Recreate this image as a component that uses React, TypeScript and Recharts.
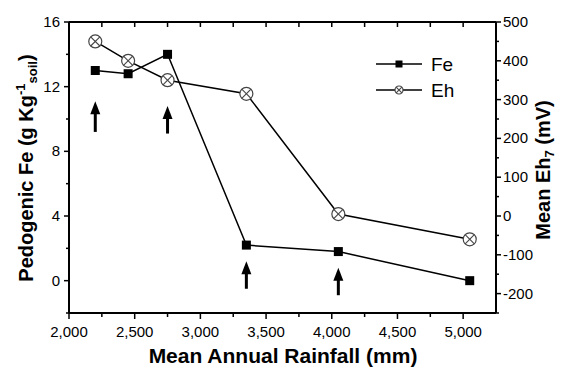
import { ComposedChart, Line, XAxis, YAxis, ReferenceLine, Legend } from "recharts"

const FONT = "'Liberation Sans', Arial, Helvetica, sans-serif"

// rainfall (mm) at each site
const rainfall = [2200, 2450, 2750, 3350, 4050, 5050]
// pedogenic Fe (g/kg soil)
const feValues = [13.0, 12.8, 14.0, 2.2, 1.8, 0.0]
// mean Eh7 (mV)
const ehValues = [450, 400, 350, 315, 5, -60]

// upward arrows (in Fe units)
const arrowRainfall = [2200, 2750, 3350, 4050]
const arrowFrom = [9.2, 9.1, -0.5, -0.9]
const arrowTo = [11.1, 10.8, 1.2, 0.8]

const xTicks = [2000, 2250, 2500, 2750, 3000, 3250, 3500, 3750, 4000, 4250, 4500, 4750, 5000]
const topTicks = [2250, 2500, 2750, 3000, 3250, 3500, 3750, 4000, 4250, 4500, 4750, 5000]
const feTicks = [-2, 0, 2, 4, 6, 8, 10, 12, 14, 16]
const ehTicks = [-250, -200, -150, -100, -50, 0, 50, 100, 150, 200, 250, 300, 350, 400, 450, 500]

const data = rainfall.map((r, i) => ({ rainfall: r, fe: feValues[i], eh: ehValues[i] }))

function BottomTick({ x, y, payload }: any) {
  const v = payload.value
  const major = v % 500 === 0
  return (
    <g>
      <line x1={x} y1={y} x2={x} y2={y + (major ? 6 : 4)} stroke="#000" strokeWidth={1.5} />
      {major && (
        <text x={x} y={y + 24} textAnchor="middle" fontSize={15} fontFamily={FONT} fill="#000">
          {v.toLocaleString("en-US")}
        </text>
      )}
    </g>
  )
}

function TopTick({ x, y }: any) {
  return <line x1={x} y1={y} x2={x} y2={y + 5} stroke="#000" strokeWidth={1.5} />
}

function LeftTick({ x, y, payload }: any) {
  const v = payload.value
  const major = v % 4 === 0
  return (
    <g>
      <line x1={x} y1={y} x2={x - (major ? 5 : 3)} y2={y} stroke="#000" strokeWidth={1.5} />
      {major && (
        <text x={x - 9} y={y + 5} textAnchor="end" fontSize={15} fontFamily={FONT} fill="#000">
          {v}
        </text>
      )}
    </g>
  )
}

function RightTick({ x, y, payload }: any) {
  const v = payload.value
  const major = v % 100 === 0
  return (
    <g>
      <line x1={x} y1={y} x2={x + (major ? 5 : 3)} y2={y} stroke="#000" strokeWidth={1.5} />
      {major && (
        <text x={x + 7} y={y + 5} textAnchor="start" fontSize={15} fontFamily={FONT} fill="#000">
          {v}
        </text>
      )}
    </g>
  )
}

function FeSquare({ cx, cy, size = 9 }: any) {
  return <rect x={cx - size / 2} y={cy - size / 2} width={size} height={size} fill="#000" />
}

function EhCircle({ cx, cy, r = 6.5 }: any) {
  const d = r * 0.707
  return (
    <g>
      <circle cx={cx} cy={cy} r={r} fill="#fff" stroke="#444" strokeWidth={1.2} />
      <line x1={cx - d} y1={cy - d} x2={cx + d} y2={cy + d} stroke="#444" strokeWidth={1.1} />
      <line x1={cx - d} y1={cy + d} x2={cx + d} y2={cy - d} stroke="#444" strokeWidth={1.1} />
    </g>
  )
}

function ArrowShape(props: any) {
  const { x1, y1, y2 } = props
  const bottom = Math.max(y1, y2)
  const top = Math.min(y1, y2)
  const headH = 13
  const headW = 10
  return (
    <g>
      <line x1={x1} y1={bottom} x2={x1} y2={top + headH - 1} stroke="#000" strokeWidth={3} />
      <polygon points={`${x1},${top} ${x1 - headW / 2},${top + headH} ${x1 + headW / 2},${top + headH}`} fill="#000" />
    </g>
  )
}

function LegendBox() {
  return (
    <svg width={100} height={54} style={{ display: "block" }}>
      <line x1={6} y1={14} x2={52} y2={14} stroke="#000" strokeWidth={1.5} />
      <FeSquare cx={29} cy={14} size={7} />
      <text x={61} y={21} fontSize={19} fontFamily={FONT} fill="#000">Fe</text>
      <line x1={6} y1={40} x2={52} y2={40} stroke="#000" strokeWidth={1.5} />
      <EhCircle cx={29} cy={40} r={4} />
      <text x={61} y={47} fontSize={19} fontFamily={FONT} fill="#000">Eh</text>
    </svg>
  )
}

const axisLine = { stroke: "#000", strokeWidth: 2 }

export default function App() {
  return (
    <div style={{ position: "absolute", left: 0, top: 0, width: 561, height: 368, background: "#fff" }}>
      <ComposedChart width={561} height={368} data={data} margin={{ top: 0, right: 0, bottom: 0, left: 0 }}>
        <XAxis
          dataKey="rainfall"
          type="number"
          domain={[2000, 5250]}
          ticks={xTicks}
          interval={0}
          allowDataOverflow
          height={55}
          tickSize={0}
          tickMargin={0}
          tickLine={false}
          axisLine={axisLine}
          tick={<BottomTick />}
          label={{
            content: () => (
              <text x={283} y={363} textAnchor="middle" fontSize={21} fontWeight="bold" fontFamily={FONT} fill="#000">
                Mean Annual Rainfall (mm)
              </text>
            ),
          }}
        />
        <XAxis
          xAxisId="top"
          dataKey="rainfall"
          orientation="top"
          type="number"
          domain={[2000, 5250]}
          ticks={topTicks}
          interval={0}
          allowDataOverflow
          height={22}
          tickSize={0}
          tickMargin={0}
          tickLine={false}
          axisLine={axisLine}
          tick={<TopTick />}
        />
        <YAxis
          yAxisId="fe"
          type="number"
          domain={[-2, 16]}
          ticks={feTicks}
          interval={0}
          allowDataOverflow
          width={69}
          tickSize={0}
          tickMargin={0}
          tickLine={false}
          axisLine={axisLine}
          tick={<LeftTick />}
          label={{
            content: () => (
              <text
                x={33}
                y={168}
                transform="rotate(-90 33 168)"
                textAnchor="middle"
                fontSize={20}
                fontWeight="bold"
                fontFamily={FONT}
                fill="#000"
              >
                <tspan>Pedogenic Fe (g Kg</tspan>
                <tspan fontSize={13} dy={-8}>-1</tspan>
                <tspan fontSize={13} dy={12}>soil</tspan>
                <tspan dy={-4}>)</tspan>
              </text>
            ),
          }}
        />
        <YAxis
          yAxisId="eh"
          orientation="right"
          type="number"
          domain={[-250, 500]}
          ticks={ehTicks}
          interval={0}
          allowDataOverflow
          width={65}
          tickSize={0}
          tickMargin={0}
          tickLine={false}
          axisLine={axisLine}
          tick={<RightTick />}
          label={{
            content: () => (
              <text
                x={550}
                y={170}
                transform="rotate(-90 550 170)"
                textAnchor="middle"
                fontSize={20}
                fontWeight="bold"
                fontFamily={FONT}
                fill="#000"
              >
                <tspan>Mean Eh</tspan>
                <tspan fontSize={13} dy={4}>7</tspan>
                <tspan dy={-4}> (mV)</tspan>
              </text>
            ),
          }}
        />
        <Legend
          layout="vertical"
          align="center"
          verticalAlign="middle"
          content={() => <LegendBox />}
          wrapperStyle={{ left: 370, top: 50, width: 100, height: 54 }}
        />
        {arrowRainfall.map((r, i) => (
          <ReferenceLine
            key={`arrow-${i}`}
            yAxisId="fe"
            ifOverflow="visible"
            segment={[
              { x: r, y: arrowFrom[i] },
              { x: r, y: arrowTo[i] },
            ]}
            shape={ArrowShape}
          />
        ))}
        <Line
          yAxisId="eh"
          dataKey="eh"
          stroke="#000"
          strokeWidth={1.5}
          isAnimationActive={false}
          activeDot={false}
          dot={(p: any) => <EhCircle key={`eh-${p.index}`} cx={p.cx} cy={p.cy} />}
        />
        <Line
          yAxisId="fe"
          dataKey="fe"
          stroke="#000"
          strokeWidth={1.5}
          isAnimationActive={false}
          activeDot={false}
          dot={(p: any) => <FeSquare key={`fe-${p.index}`} cx={p.cx} cy={p.cy} />}
        />
      </ComposedChart>
    </div>
  )
}
